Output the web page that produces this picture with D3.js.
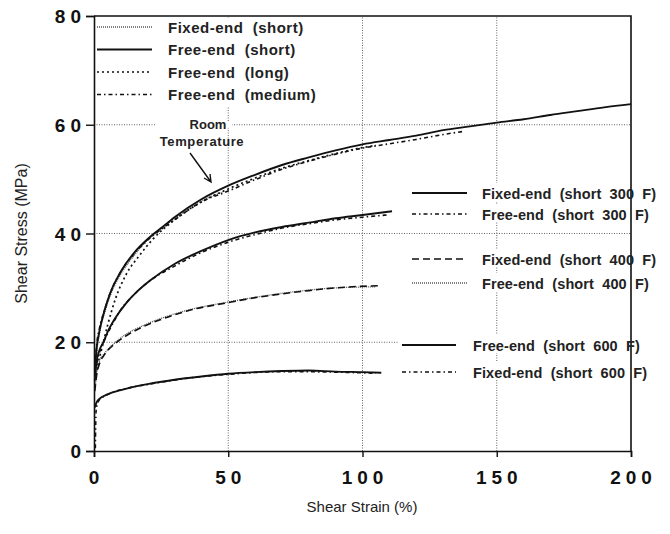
<!DOCTYPE html>
<html>
<head>
<meta charset="utf-8">
<script src="https://cdn.jsdelivr.net/npm/d3@7"></script>
<style>
  body { margin: 0; background: #fff; }
  text { font-family: "Liberation Sans", Arial, Helvetica, sans-serif; white-space: pre; }
</style>
</head>
<body>
<div id="chart"></div>
<script>
// tick labels
const xTicks = [0, 50, 100, 150, 200];
const yTicks = [0, 20, 40, 60, 80];

// room temperature curves  [strain %, stress MPa]
const fixedShortRT = [[0.5,14],[1,18],[2,21.5],[4,25.5],[6,28.5],[10,32.5],[15,36],[20,38.8],[25,40.8],[30,42.7],[40,46],[48,47.6]];
const freeShortRT = [[0.3,15],[1,19],[2,22],[4,26],[6,29],[10,33],[15,36.5],[20,39],[25,41],[30,43],[40,46.3],[50,48.8],[60,50.8],[70,52.6],[80,54],[90,55.3],[100,56.4],[110,57.2],[120,58],[130,59],[140,59.7],[150,60.4],[160,61],[170,61.8],[180,62.5],[190,63.2],[200,63.8]];
const freeLongRT = [[0.5,13],[1.5,16],[3,19],[5,23],[8,28],[12,32.5],[17,36],[22,39],[30,42.5],[40,45.8],[50,48.2],[60,50.2],[70,52],[80,53.4],[90,54.7],[100,55.8],[105,56.2]];
const freeMediumRT = [[0.5,16],[1,19.5],[2,22.5],[4,26],[6,29],[10,33],[15,36.3],[20,38.8],[30,42.5],[40,45.8],[50,47.8],[60,49.9],[70,51.8],[80,53.3],[90,54.6],[100,55.7],[110,56.5],[120,57.3],[130,58.2],[138,58.8]];

// 300 F curves
const fixed300 = [[0.3,13],[1,16.5],[2,18.5],[3.5,20],[5,21.8],[8,24.5],[12,27.2],[16,29.3],[21,31.4],[30,34.4],[40,36.8],[50,38.8],[60,40.2],[70,41.2],[80,42],[90,42.8],[100,43.4],[111,44.1]];
const free300 = [[0.5,14],[1,16],[2,18],[4,20.5],[6,22.5],[10,26],[15,28.8],[20,31],[30,34],[40,36.5],[50,38.4],[60,39.8],[70,41],[80,41.8],[90,42.5],[100,43],[109,43.4]];

// 400 F curves
const fixed400 = [[0.3,11],[1,14],[2,16],[4,17.8],[8,19.8],[12,21.2],[18,22.8],[25,24.2],[35,25.8],[50,27.3],[60,28.2],[70,28.9],[80,29.5],[90,30],[100,30.3],[107,30.4]];
const free400 = [[0.5,12],[1,14.5],[2,16.5],[4,18],[8,20],[12,21.5],[18,23],[25,24.4],[35,25.9],[50,27.4],[70,29],[90,30],[105,30.2]];

// 600 F curves
const free600 = [[0.3,8],[1,9],[2,9.6],[5,10.4],[10,11.2],[20,12.3],[30,13.1],[40,13.7],[50,14.2],[60,14.5],[70,14.7],[80,14.8],[90,14.6],[100,14.5],[107,14.4]];
const fixed600 = [[0.5,0.5],[0.6,4],[0.8,7.5],[1.5,9],[3,9.8],[6,10.6],[12,11.5],[22,12.4],[35,13.4],[50,14.1],[70,14.6],[90,14.5],[105,14.3]];

// line styles
const styles = {
  solid: { dash: null, w: 1.9, c: "#111" },
  fineDot: { dash: "1,1", w: 1.3, c: "#555" },
  dot: { dash: "2,3", w: 1.7, c: "#111" },
  dashDot: { dash: "4,3,1.5,3", w: 1.6, c: "#111" },
  dash: { dash: "7,4", w: 1.6, c: "#111" }
};

const series = [
  { data: fixedShortRT, style: "fineDot" },
  { data: freeLongRT, style: "dot" },
  { data: freeMediumRT, style: "dashDot" },
  { data: freeShortRT, style: "solid" },
  { data: free300, style: "dashDot" },
  { data: fixed300, style: "solid" },
  { data: free400, style: "fineDot" },
  { data: fixed400, style: "dash" },
  { data: fixed600, style: "dashDot" },
  { data: free600, style: "solid" }
];

const legendRT = [
  { label: "Fixed-end  (short)", style: "fineDot" },
  { label: "Free-end  (short)", style: "solid" },
  { label: "Free-end  (long)", style: "dot" },
  { label: "Free-end  (medium)", style: "dashDot" }
];
const legendHot = [
  { label: "Fixed-end  (short  300  F)", style: "solid", y: 193, x0: 412, x1: 467, tx: 482 },
  { label: "Free-end  (short  300  F)", style: "dashDot", y: 214, x0: 412, x1: 467, tx: 482 },
  { label: "Fixed-end  (short  400  F)", style: "dash", y: 259, x0: 412, x1: 467, tx: 482 },
  { label: "Free-end  (short  400  F)", style: "fineDot", y: 283, x0: 412, x1: 467, tx: 482 },
  { label: "Free-end  (short  600  F)", style: "solid", y: 345, x0: 402, x1: 456, tx: 473 },
  { label: "Fixed-end  (short  600  F)", style: "dashDot", y: 372, x0: 402, x1: 456, tx: 473 }
];

const W = 670, H = 534;
const margin = { top: 16, right: 39, bottom: 83, left: 94 };

const svg = d3.select("#chart").append("svg")
  .attr("width", W).attr("height", H);

const x = d3.scaleLinear().domain([0, 200]).range([margin.left, W - margin.right]);
const y = d3.scaleLinear().domain([0, 80]).range([H - margin.bottom, margin.top]);

// grid
const grid = svg.append("g").attr("stroke", "#666").attr("stroke-width", 1).attr("stroke-dasharray", "1,1.5");
grid.selectAll(".gx").data([50, 100, 150]).join("line")
  .attr("x1", d => x(d)).attr("x2", d => x(d)).attr("y1", y(0)).attr("y2", y(80));
grid.selectAll(".gy").data([20, 40, 60]).join("line")
  .attr("y1", d => y(d)).attr("y2", d => y(d)).attr("x1", x(0)).attr("x2", x(200));

// white boxes behind legends and annotation
const boxes = svg.append("g").attr("fill", "#fff");
boxes.append("rect").attr("x", x(0) + 2).attr("y", y(80) + 2).attr("width", 252).attr("height", 88);
legendHot.forEach(d => {
  boxes.append("rect").attr("x", d.x0 - 4).attr("y", d.y - 10).attr("width", W - d.x0).attr("height", 18);
});
boxes.append("rect").attr("x", 155).attr("y", y(60) - 3).attr("width", 77).attr("height", 6);

// curves
const line = d3.line().x(d => x(d[0])).y(d => y(d[1])).curve(d3.curveMonotoneX);
svg.append("g").selectAll("path").data(series).join("path")
  .attr("fill", "none")
  .attr("stroke", d => styles[d.style].c)
  .attr("stroke-width", d => styles[d.style].w)
  .attr("stroke-dasharray", d => styles[d.style].dash)
  .attr("stroke-linejoin", "round")
  .attr("d", d => line(d.data));

// frame (top and right)
svg.append("path").attr("fill", "none").attr("stroke", "#111").attr("stroke-width", 1.6)
  .attr("d", `M${x(0)},${y(80)}H${x(200)}V${y(0)}`);

// axes
const xAxis = svg.append("g").attr("transform", `translate(0,${y(0)})`)
  .call(d3.axisBottom(x).tickValues(xTicks).tickSize(6).tickFormat(""));
const yAxis = svg.append("g").attr("transform", `translate(${x(0)},0)`)
  .call(d3.axisLeft(y).tickValues(yTicks).tickSize(8).tickFormat(""));
[xAxis, yAxis].forEach(a => {
  a.select(".domain").attr("stroke", "#111").attr("stroke-width", 1.6);
  a.selectAll(".tick line").attr("stroke", "#111").attr("stroke-width", 1.4);
});

// tick labels (spaced digits)
svg.append("g").selectAll("text").data(xTicks).join("text")
  .attr("x", d => x(d)).attr("y", y(0) + 33)
  .attr("text-anchor", "middle")
  .attr("font-size", 19).attr("font-weight", "bold").attr("letter-spacing", 5)
  .attr("dx", 2.5)
  .attr("fill", "#111")
  .text(d => d);
svg.append("g").selectAll("text").data(yTicks).join("text")
  .attr("x", x(0) - 13 + 5).attr("y", d => y(d) + 7)
  .attr("text-anchor", "end")
  .attr("font-size", 19).attr("font-weight", "bold").attr("letter-spacing", 5)
  .attr("fill", "#111")
  .text(d => d);

// axis titles
svg.append("text").attr("x", 362).attr("y", 512).attr("text-anchor", "middle")
  .attr("font-size", 15).attr("fill", "#222").text("Shear Strain (%)");
svg.append("text").attr("transform", `translate(27,${(y(0) + y(80)) / 2}) rotate(-90)`)
  .attr("text-anchor", "middle").attr("font-size", 16).attr("fill", "#222").text("Shear Stress (MPa)");

// legend: room temperature
const lg = svg.append("g");
legendRT.forEach((d, i) => {
  const yy = 27 + i * 22.5;
  lg.append("line").attr("x1", 97).attr("x2", 152).attr("y1", yy).attr("y2", yy)
    .attr("stroke", styles[d.style].c).attr("stroke-width", styles[d.style].w)
    .attr("stroke-dasharray", styles[d.style].dash);
  lg.append("text").attr("x", 168).attr("y", yy + 5.5).attr("font-size", 15).attr("font-weight", "bold")
    .attr("letter-spacing", 0.5).attr("fill", "#222").text(d.label);
});

// legend: elevated temperatures
legendHot.forEach(d => {
  lg.append("line").attr("x1", d.x0).attr("x2", d.x1).attr("y1", d.y).attr("y2", d.y)
    .attr("stroke", styles[d.style].c).attr("stroke-width", styles[d.style].w)
    .attr("stroke-dasharray", styles[d.style].dash);
  lg.append("text").attr("x", d.tx).attr("y", d.y + 5.5).attr("font-size", 14.5).attr("font-weight", "bold")
    .attr("letter-spacing", 0.1).attr("fill", "#222").text(d.label);
});

// room temperature annotation
svg.append("text").attr("x", 208).attr("y", 129).attr("text-anchor", "middle")
  .attr("font-size", 13).attr("font-weight", "bold").attr("fill", "#222").text("Room");
svg.append("text").attr("x", 202).attr("y", 146).attr("text-anchor", "middle")
  .attr("font-size", 13).attr("font-weight", "bold").attr("letter-spacing", 0.6).attr("fill", "#222").text("Temperature");
svg.append("path").attr("fill", "none").attr("stroke", "#111").attr("stroke-width", 1.4)
  .attr("d", "M190,153L211,182M204,178L211,182L210,174");
</script>
</body>
</html>
